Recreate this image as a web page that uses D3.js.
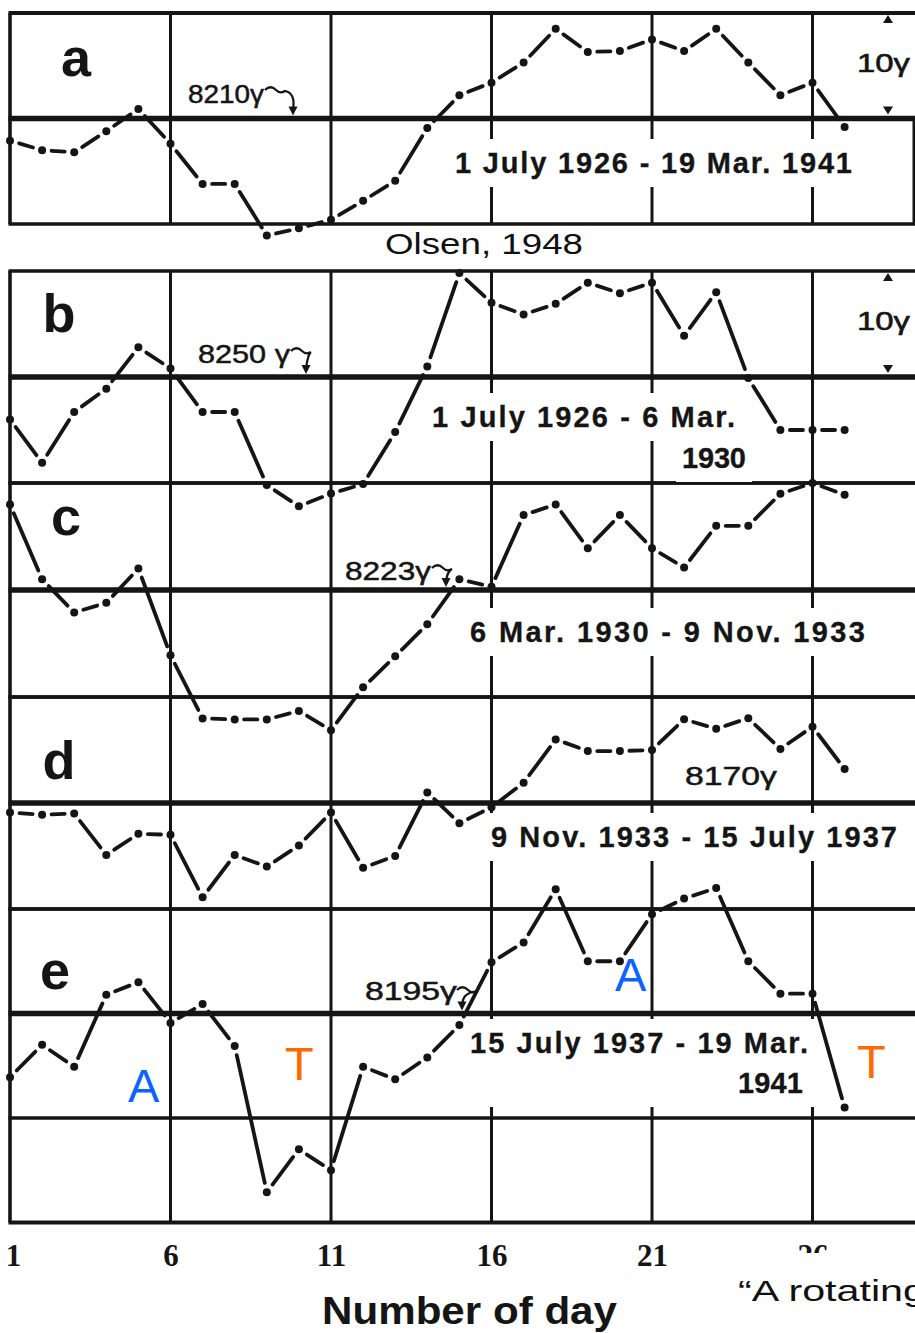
<!DOCTYPE html>
<html>
<head>
<meta charset="utf-8">
<script src="https://cdn.jsdelivr.net/npm/d3@7"></script>
<style>
  body { margin: 0; background: #fff; }
  svg { display: block; }
</style>
</head>
<body>
<svg id="chart" width="915" height="1333"></svg>
<script>
// ---- data -------------------------------------------------------------
const days = d3.range(1, 28);                 // day numbers 1..27
const gridDays = [1, 6, 11, 16, 21, 26];      // labelled days / vertical rules
const panelIds = ["a", "b", "c", "d", "e"];
const baseLevels = [8210, 8250, 8223, 8170, 8195];   // reference level of each curve (γ)
const periodLabels = [
  ["1 July 1926 - 19 Mar. 1941"],
  ["1 July 1926 - 6 Mar.", "1930"],
  ["6 Mar. 1930 - 9 Nov. 1933"],
  ["9 Nov. 1933 - 15 July 1937"],
  ["15 July 1937 - 19 Mar.", "1941"]
];
// daily means of horizontal intensity (γ), days 1..27
const seriesA = [8207.9, 8207.0, 8206.8, 8208.8, 8210.9, 8207.6, 8203.8, 8203.8, 8198.9, 8199.6,
                 8200.4, 8202.2, 8204.1, 8209.1, 8212.2, 8213.4, 8215.3, 8218.5, 8216.3, 8216.4,
                 8217.5, 8216.4, 8218.5, 8215.3, 8212.2, 8213.4, 8209.2];
const seriesB = [8246.0, 8241.9, 8246.7, 8248.9, 8252.8, 8250.8, 8246.7, 8246.7, 8239.8, 8237.8,
                 8239.0, 8239.9, 8244.8, 8251.0, 8259.8, 8257.0, 8255.9, 8256.9, 8258.9, 8257.9,
                 8258.9, 8253.9, 8258.0, 8249.9, 8245.0, 8245.0, 8245.0];
const seriesC = [8231.0, 8224.0, 8220.9, 8221.8, 8225.0, 8216.9, 8211.0, 8210.9, 8210.9, 8211.7,
                 8209.9, 8213.9, 8216.8, 8219.8, 8224.0, 8223.3, 8230.0, 8231.0, 8226.9, 8230.0,
                 8226.9, 8225.1, 8229.0, 8229.0, 8232.0, 8233.0, 8231.9];
const seriesD = [8169.1, 8168.9, 8169.0, 8165.1, 8167.1, 8167.0, 8161.1, 8165.1, 8164.0, 8166.0,
                 8169.1, 8163.9, 8165.0, 8171.0, 8168.1, 8169.6, 8171.9, 8176.0, 8174.9, 8174.9,
                 8175.0, 8177.9, 8177.0, 8178.0, 8175.1, 8177.2, 8173.2];
const seriesE = [8188.9, 8192.0, 8189.9, 8196.8, 8198.0, 8194.1, 8195.9, 8191.9, 8177.9, 8182.0,
                 8180.0, 8189.9, 8188.7, 8190.8, 8193.9, 8199.9, 8201.8, 8206.9, 8200.0, 8200.0,
                 8204.5, 8206.0, 8207.0, 8200.0, 8196.9, 8196.9, 8186.0];
const allSeries = [seriesA, seriesB, seriesC, seriesD, seriesE];
const scaleStep = 10;   // one grid row = 10γ
const axisTitle = "Number of day";
const sourceNote = "Olsen, 1948";
const captionText = "\u201CA rotating";

// ---- layout -----------------------------------------------------------
const ink = "#151515";
// pixel rows spanned by ±10γ around each reference level
const panelRows = [[224, 13], [483, 271], [697, 483], [909, 697], [1118, 909]];
const letterPos = [[76, 76], [59, 332], [66, 535], [59, 779], [55, 989]];
const periodPos = [
  [{x: 455, y: 173, w: 397}],
  [{x: 432, y: 427, w: 303}, {x: 682, y: 468, w: 64}],
  [{x: 470, y: 642, w: 395}],
  [{x: 491, y: 847, w: 406}],
  [{x: 470, y: 1053, w: 338}, {x: 738, y: 1093, w: 65}]
];
const periodJoin = [false, false, false, false, true];
// level label: text box and curled pointer to the reference line
const levelPos = [
  {x: 188, y: 103, w: 76, sep: "", arrow: {x0: 265, y0: 90, x1: 293}},
  {x: 198, y: 363, w: 92, sep: " ", arrow: {x0: 291, y0: 351, x1: 306}},
  {x: 345, y: 580, w: 86, sep: "", arrow: {x0: 432, y0: 568, x1: 446}},
  {x: 685, y: 785, w: 92, sep: "", arrow: null},
  {x: 365, y: 1000, w: 92, sep: "", arrow: {x0: 457, y0: 990, x1: 462}}
];

const x = d3.scaleLinear().domain([1, 27]).range([10, 844.6]);
const panels = panelIds.map((id, i) => ({
  id,
  base: baseLevels[i],
  values: allSeries[i],
  y: d3.scaleLinear()
        .domain([baseLevels[i] - scaleStep, baseLevels[i] + scaleStep])
        .range(panelRows[i])
}));

const svg = d3.select("#chart");
const gGrid = svg.append("g");
const gMask = svg.append("g");
const gText = svg.append("g");
const gData = svg.append("g");
const gTop = svg.append("g");

// ---- grid -------------------------------------------------------------
const xRight = 920;
panels.forEach((p, i) => {
  [p.base + scaleStep, p.base - scaleStep].forEach(v => {
    gGrid.append("line")
      .attr("x1", x(1) - 1.5).attr("x2", xRight)
      .attr("y1", p.y(v)).attr("y2", p.y(v))
      .attr("stroke", ink).attr("stroke-width", i === 0 && v > p.base ? 4 : 3.4);
  });
  gGrid.append("line")
    .attr("x1", x(1) - 1.5).attr("x2", xRight)
    .attr("y1", p.y(p.base)).attr("y2", p.y(p.base))
    .attr("stroke", ink).attr("stroke-width", 5.5);
});
const last = panels[panels.length - 1];
const yFloor = last.y(last.base - 2 * scaleStep);
gGrid.append("line")
  .attr("x1", x(1) - 1.5).attr("x2", xRight)
  .attr("y1", yFloor).attr("y2", yFloor)
  .attr("stroke", ink).attr("stroke-width", 4);

// vertical rules: first block (a) and the stacked block (b..e)
const blocks = [
  [panels[0].y(panels[0].base + scaleStep), panels[0].y(panels[0].base - scaleStep)],
  [panels[1].y(panels[1].base + scaleStep), yFloor]
];
blocks.forEach(([y0, y1]) => {
  gGrid.selectAll(null).data(gridDays).enter().append("line")
    .attr("x1", d => x(d)).attr("x2", d => x(d))
    .attr("y1", y0).attr("y2", y1)
    .attr("stroke", ink).attr("stroke-width", d => d === 1 ? 3.6 : 3);
});
// right frame edge of panel a
gGrid.append("line")
  .attr("x1", 914).attr("x2", 914)
  .attr("y1", panels[0].y(panels[0].base)).attr("y2", panels[0].y(panels[0].base - scaleStep))
  .attr("stroke", ink).attr("stroke-width", 3);

// ---- text helpers -------------------------------------------------------
function addText(g, str, o) {
  const t = g.append("text")
    .attr("x", o.x).attr("y", o.y)
    .attr("font-family", o.family || "'Liberation Sans', Arial, sans-serif")
    .attr("font-size", o.size)
    .attr("font-weight", o.weight || "normal")
    .attr("fill", o.fill || ink)
    .attr("text-anchor", o.anchor || "start")
    .text(str);
  if (o.w) t.attr("textLength", o.w).attr("lengthAdjust", o.adjust || "spacingAndGlyphs");
  if (o.stroke) t.attr("stroke", o.fill || ink).attr("stroke-width", o.stroke);
  return t;
}
function maskBox(boxes, padX, padY) {
  boxes.forEach(b => {
    gMask.append("rect")
      .attr("x", b.x - padX).attr("y", b.y - padY)
      .attr("width", b.width + 2 * padX).attr("height", b.height + 2 * padY)
      .attr("fill", "#fff");
  });
}

// ---- panel annotations -------------------------------------------------
panels.forEach((p, i) => {
  // panel letter
  addText(gText, p.id, {x: letterPos[i][0], y: letterPos[i][1], size: 54, weight: "bold", anchor: "middle"});

  // period label(s) on white
  const nodes = periodLabels[i].map((s, k) =>
    addText(gText, s, {x: periodPos[i][k].x, y: periodPos[i][k].y, size: 29, weight: "bold",
                       w: periodPos[i][k].w, adjust: "spacing", stroke: 0.3}));
  const boxes = nodes.map(n => n.node().getBBox());
  if (periodJoin[i]) {
    const x0 = d3.min(boxes, b => b.x), x1 = d3.max(boxes, b => b.x + b.width);
    const y0 = d3.min(boxes, b => b.y), y1 = d3.max(boxes, b => b.y + b.height);
    maskBox([{x: x0, y: y0, width: x1 - x0, height: y1 - y0}], 8, 8);
  } else {
    maskBox(boxes, 6, 8);
  }

  // reference level label
  const L = levelPos[i];
  addText(gText, `${p.base}${L.sep}\u03B3`, {x: L.x, y: L.y, size: 26, w: L.w, stroke: 0.5});
  if (L.arrow) {
    const a = L.arrow;
    const tipY = p.y(p.base) - 3;
    gText.append("path")
      .attr("d", `M${a.x0},${a.y0} c4,-4 8,-3 11,0 c3,3 6,3 9,1 ` +
                 `C${a.x1 + 2},${a.y0 + 3} ${a.x1 + 1},${tipY - 12} ${a.x1},${tipY - 6}`)
      .attr("fill", "none").attr("stroke", ink).attr("stroke-width", 2.2);
    gText.append("path")
      .attr("d", `M${a.x1 - 4.5},${tipY - 9} L${a.x1 + 4.5},${tipY - 9} L${a.x1},${tipY} Z`)
      .attr("fill", ink);
  }
});

// 10γ scale marks on panels a and b
[0, 1].forEach(i => {
  const p = panels[i];
  const yTop = p.y(p.base + scaleStep), yBase = p.y(p.base);
  addText(gText, `${scaleStep}\u03B3`, {x: 857, y: yTop + 59, size: 26, w: 53, stroke: 0.6});
  gText.append("path")
    .attr("d", `M883,${yTop + 10} L893,${yTop + 10} L888,${yTop + 2} Z`).attr("fill", ink);
  gText.append("path")
    .attr("d", `M883,${yBase - 12} L893,${yBase - 12} L888,${yBase - 4} Z`).attr("fill", ink);
});

// source note between panels a and b
addText(gText, sourceNote, {x: 385, y: 254, size: 30, w: 198, fill: "#111"});

// ---- data curves: dashes between days, dots on days ---------------------
const gap = 9.5;
panels.forEach(p => {
  const pts = p.values.map((v, k) => [x(days[k]), p.y(v)]);
  const segs = d3.pairs(pts).map(([a, b]) => {
    const dx = b[0] - a[0], dy = b[1] - a[1];
    const len = Math.hypot(dx, dy);
    const ux = dx / len, uy = dy / len;
    return [[a[0] + ux * gap, a[1] + uy * gap], [b[0] - ux * gap, b[1] - uy * gap]];
  });
  const g = gData.append("g");
  g.selectAll("path").data(segs).enter().append("path")
    .attr("d", d3.line())
    .attr("fill", "none").attr("stroke", ink).attr("stroke-width", 3.8)
    .attr("stroke-linecap", "round");
  g.selectAll("circle").data(pts).enter().append("circle")
    .attr("cx", d => d[0]).attr("cy", d => d[1]).attr("r", 4)
    .attr("fill", ink);
});

// ---- A / T markers on panel e --------------------------------------------
const markers = [
  {t: "A", x: 128, y: 1102, c: "#0b63ff"},
  {t: "T", x: 285, y: 1080, c: "#ff6a00"},
  {t: "A", x: 615, y: 991, c: "#0b63ff"},
  {t: "T", x: 857, y: 1078, c: "#ff6a00"}
];
markers.forEach(m => addText(gTop, m.t, {x: m.x, y: m.y, size: 47, fill: m.c}));

// ---- x axis --------------------------------------------------------------
const axis = d3.axisBottom(x).tickValues(gridDays).tickSize(0).tickPadding(0).tickFormat(d3.format("d"));
const gAxis = gTop.append("g").attr("transform", `translate(0,${yFloor + 21})`).call(axis);
gAxis.select(".domain").remove();
gAxis.selectAll("text")
  .attr("font-family", "'Liberation Serif', 'DejaVu Serif', serif")
  .attr("font-weight", "bold").attr("font-size", 31).attr("fill", ink)
  .attr("dy", "0.71em");
gAxis.selectAll(".tick").filter(d => d === 1).select("text").attr("dx", 3);

addText(gTop, axisTitle, {x: 322, y: 1324, size: 38, weight: "bold", w: 295});

// caption in the lower right corner, drawn on white over the last tick label
gTop.append("rect").attr("x", 700).attr("y", 1253).attr("width", 220).attr("height", 90).attr("fill", "#fff");
addText(gTop, captionText, {x: 738, y: 1301, size: 30, w: 188, fill: "#111"});
</script>
</body>
</html>
